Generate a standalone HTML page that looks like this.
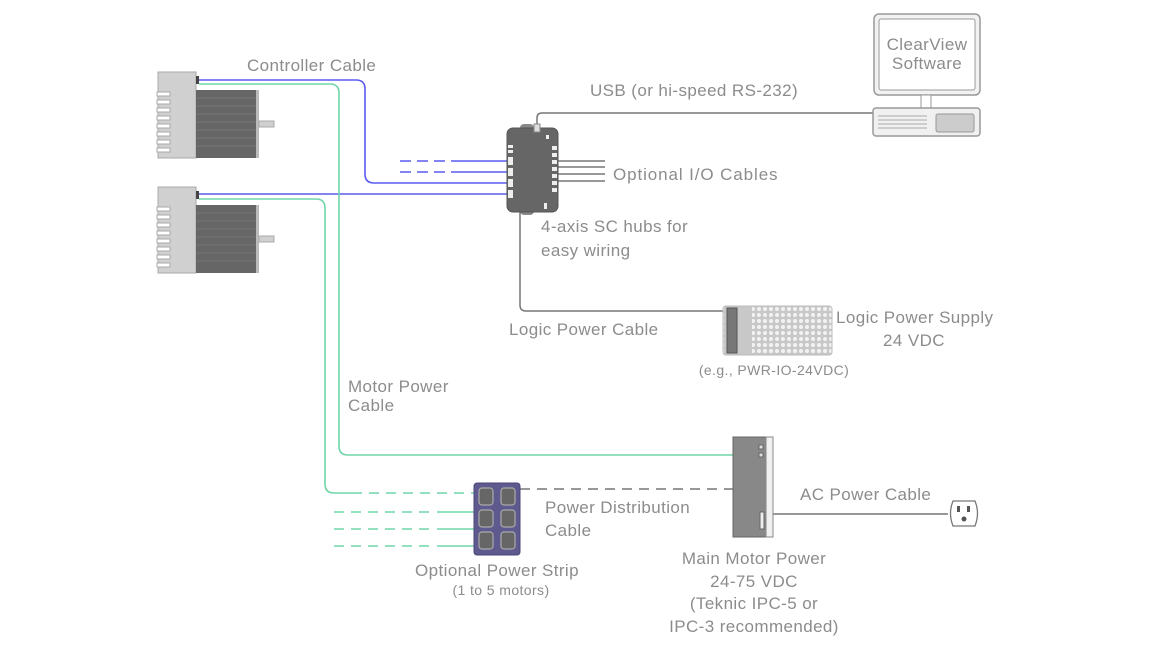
<!DOCTYPE html>
<html><head><meta charset="utf-8"><style>
body{margin:0;background:#fff;}
svg{display:block;font-family:"Liberation Sans",sans-serif;}
text{fill:#8c8c8c;letter-spacing:0.4px;}
</style></head><body>
<svg width="1162" height="654" viewBox="0 0 1162 654" xmlns="http://www.w3.org/2000/svg">
<defs>
<pattern id="holes" width="6" height="6" patternUnits="userSpaceOnUse">
<rect width="6" height="6" fill="#c8c8c8"/><circle cx="3" cy="3" r="2" fill="#f2f2f2"/>
</pattern>
<g id="motor">
<rect x="158" y="0" width="38" height="86" fill="#d0d0d0" stroke="#aaa"/>
<g fill="#fff" stroke="#aaa">
<rect x="157" y="20" width="13" height="4"/><rect x="157" y="28" width="13" height="4"/><rect x="157" y="36" width="13" height="4"/><rect x="157" y="44" width="13" height="4"/><rect x="157" y="52" width="13" height="4"/><rect x="157" y="60" width="13" height="4"/><rect x="157" y="68" width="13" height="4"/><rect x="157" y="76" width="13" height="4"/></g>
<rect x="196" y="4" width="3" height="8" fill="#444"/>
<rect x="196" y="18" width="62" height="68" fill="#666"/>
<g stroke="#777" stroke-width="1"><line x1="197" y1="26" x2="256" y2="26"/><line x1="197" y1="34" x2="256" y2="34"/><line x1="197" y1="42" x2="256" y2="42"/><line x1="197" y1="50" x2="256" y2="50"/><line x1="197" y1="58" x2="256" y2="58"/><line x1="197" y1="66" x2="256" y2="66"/><line x1="197" y1="74" x2="256" y2="74"/></g>
<rect x="256" y="18" width="3" height="68" fill="#bbb"/>
<rect x="259" y="49" width="15" height="6" fill="#d0d0d0" stroke="#aaa"/>
</g>
</defs>
<use href="#motor" y="72"/>
<use href="#motor" y="187"/>
<g fill="none" stroke="#5a5af0" stroke-width="1.6">
<path d="M199 80 H356 Q365 80 365 89 V174 Q365 183 374 183 H512"/>
<path d="M199 194 H512"/>
<path d="M400 161 H462" stroke-dasharray="11 6"/><path d="M462 161 H512"/>
<path d="M400 172 H462" stroke-dasharray="11 6"/><path d="M462 172 H512"/>
</g>
<g fill="none" stroke="#6fd6a8" stroke-width="1.6">
<path d="M199 84 H330 Q339 84 339 93 V446 Q339 455 348 455 H735"/>
<path d="M199 199 H316 Q325 199 325 208 V484 Q325 493 334 493 H352"/>
<path d="M352 493 H474" stroke-dasharray="10 7"/>
<path d="M334 512 H432" stroke-dasharray="10 7"/><path d="M437 512 H474"/>
<path d="M334 529 H432" stroke-dasharray="10 7"/><path d="M437 529 H474"/>
<path d="M334 546 H432" stroke-dasharray="10 7"/><path d="M437 546 H474"/>
</g>
<g fill="none" stroke="#777" stroke-width="1.5">
<path d="M537 128 V118 Q537 113 542 113 H873"/>
<path d="M520 212 V305 Q520 311 526 311 H723"/>
<path d="M558 161 H605 M558 167 H605 M558 174 H605 M558 181 H605"/>
<path d="M773 514 H948"/>
<path d="M520 489 H733" stroke-dasharray="10 7"/>
</g>
<rect x="520" y="124" width="14" height="8" rx="4" fill="#888"/>
<rect x="520" y="207" width="14" height="8" rx="4" fill="#888"/>
<rect x="507" y="128" width="51" height="84" rx="6" fill="#666" stroke="#555"/>
<rect x="534" y="124" width="6" height="8" fill="#ddd" stroke="#888"/>
<g fill="#eee"><rect x="508" y="145" width="5" height="3"/><rect x="508" y="150" width="5" height="3"/>
<rect x="508" y="157" width="5" height="8"/><rect x="508" y="168" width="5" height="8"/><rect x="508" y="179" width="5" height="8"/><rect x="508" y="190" width="5" height="8"/>
<rect x="552" y="146" width="5" height="4"/><rect x="552" y="153" width="5" height="4"/><rect x="552" y="160" width="5" height="4"/><rect x="552" y="167" width="5" height="4"/><rect x="552" y="174" width="5" height="4"/><rect x="552" y="181" width="5" height="4"/><rect x="552" y="188" width="5" height="4"/>
<rect x="546" y="135" width="3" height="4"/><rect x="544" y="203" width="3" height="6"/></g>
<rect x="874" y="14" width="106" height="81" rx="5" fill="#f2f2f2" stroke="#999" stroke-width="1.5"/>
<rect x="879" y="19" width="96" height="71" rx="2" fill="#fff" stroke="#999"/>
<rect x="921" y="95" width="10" height="13" fill="#fff" stroke="#999"/>
<rect x="873" y="108" width="107" height="28" rx="3" fill="#f0f0f0" stroke="#999" stroke-width="1.5"/>
<g stroke="#aaa"><line x1="878" y1="116" x2="927" y2="116"/><line x1="878" y1="120" x2="927" y2="120"/><line x1="878" y1="124" x2="927" y2="124"/><line x1="878" y1="128" x2="927" y2="128"/></g>
<rect x="936" y="114" width="38" height="18" rx="2" fill="#ccc" stroke="#999"/>
<text x="927" y="50" font-size="17" text-anchor="middle">ClearView</text>
<text x="927" y="69" font-size="17" text-anchor="middle">Software</text>
<rect x="723" y="306" width="109" height="49" rx="3" fill="url(#holes)" stroke="#bbb"/>
<rect x="724" y="307" width="28" height="47" fill="#c8c8c8"/>
<rect x="727" y="308" width="10" height="45" fill="#777" stroke="#555"/>
<rect x="733" y="437" width="40" height="100" fill="#888" stroke="#666"/>
<rect x="766" y="437" width="7" height="100" fill="#f0f0f0" stroke="#888"/>
<rect x="759" y="445" width="4" height="4" fill="#ddd" stroke="#666"/><rect x="759" y="453" width="4" height="4" fill="#ddd" stroke="#666"/>
<rect x="760" y="512" width="4" height="17" fill="#eee" stroke="#666"/>
<path d="M953 501 H975 Q980 513 975 526 H953 Q948 513 953 501 Z" fill="#fff" stroke="#777" stroke-width="1.3"/>
<rect x="957" y="506" width="3" height="6" fill="#555"/><rect x="967" y="506" width="3" height="6" fill="#555"/><circle cx="964" cy="519" r="2.5" fill="#555"/>
<rect x="474" y="483" width="46" height="72" rx="3" fill="#5f5a8e" stroke="#4b477a"/>
<g fill="#666" stroke="#aaa" stroke-width="1.2">
<rect x="479" y="488" width="14" height="17" rx="3"/><rect x="501" y="488" width="14" height="17" rx="3"/>
<rect x="479" y="510" width="14" height="17" rx="3"/><rect x="501" y="510" width="14" height="17" rx="3"/>
<rect x="479" y="532" width="14" height="17" rx="3"/><rect x="501" y="532" width="14" height="17" rx="3"/></g>
<g font-size="17">
<text x="247" y="71">Controller Cable</text>
<text x="590" y="96">USB (or hi-speed RS-232)</text>
<text x="613" y="180" style="letter-spacing:0.9px">Optional I/O Cables</text>
<text x="541" y="232">4-axis SC hubs for</text>
<text x="541" y="256">easy wiring</text>
<text x="509" y="335">Logic Power Cable</text>
<text x="836" y="323">Logic Power Supply</text>
<text x="914" y="346" text-anchor="middle">24 VDC</text>
<text x="348" y="392">Motor Power</text>
<text x="348" y="411">Cable</text>
<text x="800" y="500">AC Power Cable</text>
<text x="545" y="513">Power Distribution</text>
<text x="545" y="536">Cable</text>
<text x="497" y="576" text-anchor="middle">Optional Power Strip</text>
<g text-anchor="middle"><text x="754" y="564">Main Motor Power</text>
<text x="754" y="587">24-75 VDC</text>
<text x="754" y="609">(Teknic IPC-5 or</text>
<text x="754" y="632">IPC-3 recommended)</text></g>
</g>
<text x="774" y="375" font-size="14" text-anchor="middle">(e.g., PWR-IO-24VDC)</text>
<text x="501" y="595" font-size="14" text-anchor="middle">(1 to 5 motors)</text>
</svg>
</body></html>
